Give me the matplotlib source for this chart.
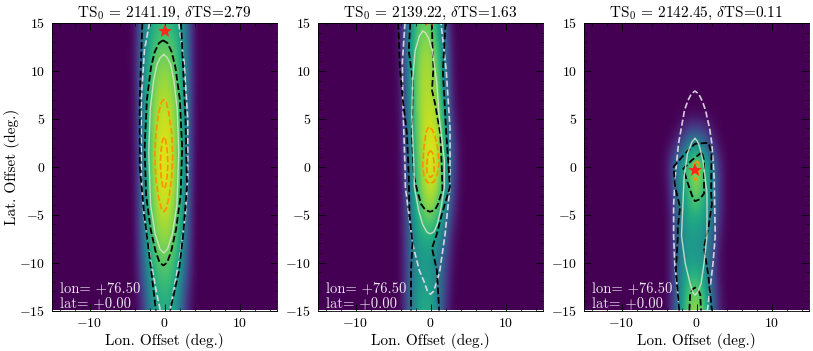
""" Three TS maps in longitude / latitude offset, with contours and best-fit star """

import numpy as np
import matplotlib.pyplot as plt

plt.rcParams['font.family'] = ['cmr10', 'DejaVu Serif']
plt.rcParams['mathtext.fontset'] = 'cm'
plt.rcParams['axes.formatter.use_mathtext'] = True
plt.rcParams['axes.unicode_minus'] = True

titles = [r'$\mathrm{TS}_0$ = 2141.19, $\delta$TS=2.79',
          r'$\mathrm{TS}_0$ = 2139.22, $\delta$TS=1.63',
          r'$\mathrm{TS}_0$ = 2142.45, $\delta$TS=0.11']
star_lon = [0.0, -0.2, -0.2]
star_lat = [14.2, 15.3, -0.3]

# heat map, values (0 = purple, 1 = yellow)
grid_lon = [-5, -4, -3, -2, -1, 0, 1, 2, 3, 4, 5]
grid_lat = [15, 12.5, 10, 7.5, 5, 2.5, 0, -2.5, -5, -7.5, -10, -12.5, -15]

map_1 = [[0, .02, .36, .56, .63, .66, .63, .56, .36, .02, 0],
         [0, .03, .38, .62, .73, .76, .73, .62, .38, .03, 0],
         [0, .03, .40, .68, .80, .83, .80, .68, .40, .03, 0],
         [0, .02, .40, .71, .85, .88, .85, .71, .40, .02, 0],
         [0, .02, .40, .73, .89, .93, .89, .73, .40, .02, 0],
         [0, .01, .40, .74, .91, .96, .91, .74, .40, .01, 0],
         [0, .01, .38, .74, .92, .97, .92, .74, .38, .01, 0],
         [0, .01, .36, .72, .90, .95, .90, .72, .36, .01, 0],
         [0, 0, .34, .69, .86, .91, .86, .69, .34, 0, 0],
         [0, 0, .30, .64, .80, .84, .80, .64, .30, 0, 0],
         [0, 0, .26, .58, .72, .76, .72, .58, .26, 0, 0],
         [0, 0, .18, .50, .64, .68, .64, .50, .18, 0, 0],
         [0, 0, .10, .42, .58, .62, .58, .42, .10, 0, 0]]

map_2 = [[0, .06, .40, .66, .76, .74, .58, .24, 0, 0, 0],
         [0, .06, .44, .72, .84, .84, .70, .34, .02, 0, 0],
         [0, .05, .44, .76, .87, .87, .76, .40, .03, 0, 0],
         [0, .04, .42, .76, .88, .89, .80, .46, .04, 0, 0],
         [0, .03, .38, .76, .89, .92, .86, .54, .08, 0, 0],
         [0, .02, .36, .72, .90, .96, .92, .64, .18, .01, 0],
         [0, .02, .34, .68, .88, .97, .90, .64, .22, .01, 0],
         [0, .01, .30, .64, .84, .93, .84, .58, .18, .01, 0],
         [0, .01, .28, .58, .75, .80, .70, .46, .12, 0, 0],
         [0, .01, .26, .52, .62, .62, .52, .30, .05, 0, 0],
         [0, .01, .24, .48, .52, .52, .42, .22, .02, 0, 0],
         [0, .01, .26, .50, .57, .56, .44, .18, .01, 0, 0],
         [0, .01, .28, .52, .62, .62, .44, .14, 0, 0, 0]]

map_3 = [[0, 0, 0, 0, 0, 0, 0, 0, 0, 0, 0],
         [0, 0, 0, 0, 0, 0, 0, 0, 0, 0, 0],
         [0, 0, 0, 0, 0, 0, 0, 0, 0, 0, 0],
         [0, 0, 0, 0, 0, 0, 0, 0, 0, 0, 0],
         [0, 0, 0, 0, 0, 0, 0, 0, 0, 0, 0],
         [0, 0, .03, .18, .42, .46, .34, .14, .01, 0, 0],
         [0, .04, .34, .57, .76, .90, .72, .48, .16, 0, 0],
         [0, .01, .24, .52, .70, .82, .68, .48, .16, 0, 0],
         [0, 0, .18, .48, .62, .64, .58, .42, .16, 0, 0],
         [0, 0, .18, .46, .54, .52, .50, .34, .08, 0, 0],
         [0, 0, .18, .46, .56, .54, .50, .28, .04, 0, 0],
         [0, 0, .20, .52, .70, .74, .64, .34, .06, 0, 0],
         [0, 0, .22, .56, .80, .86, .74, .42, .10, 0, 0]]

# contours of panel 1
p1_white_dash_lon = [-2.0, -2.67, -3.1, -3.1, -2.75, -1.9, -1.1, -0.55]
p1_white_dash_lat = [15, 12.2, 7, -1, -5, -9.5, -13, -15]
p1_white_dash2_lon = [0.7, 1.2, 2.0, 2.8, 3.1, 3.1, 2.6, 1.9]
p1_white_dash2_lat = [-15, -13, -9.5, -5, -1, 5, 11, 15]
p1_black_out_lon = [-2.96, -3.3, -3.3, -2.7, -1.9, -1.15]
p1_black_out_lat = [15, 7, 0, -5, -10, -15]
p1_black_out2_lon = [2.2, 2.8, 3.0, 2.5, 1.9, 0.75]
p1_black_out2_lat = [15, 5, -2, -7, -11, -15]
p1_black_in_lon = [-0.2, -0.75, -1.3, -1.8, -2.35, -2.65, -2.45, -1.85, -1.2, -0.65, -0.15,
                   0.35, 0.9, 1.55, 2.15, 2.35, 2.05, 1.45, 0.95, 0.4, -0.2]
p1_black_in_lat = [13.2, 12.9, 12, 10.4, 7, 2, -3, -6.5, -8.8, -10, -10.3,
                   -10, -8.8, -6.5, -3, 2, 7, 10.4, 12, 12.9, 13.2]
p1_white_lon = [-0.1, -0.55, -1.0, -1.45, -1.9, -2.1, -1.85, -1.25, -0.6, -0.1,
                0.4, 1.05, 1.65, 1.9, 1.7, 1.25, 0.8, 0.35, -0.1]
p1_white_lat = [11.7, 11.4, 10.7, 9, 6, 1.5, -4, -7, -8.6, -9,
                -8.6, -7, -4, 1.5, 6, 9, 10.7, 11.4, 11.7]
p1_orange_lon = [-0.1, -0.45, -0.8, -1.15, -1.3, -1.15, -0.8, -0.4, -0.1,
                 0.2, 0.6, 0.95, 1.1, 0.95, 0.6, 0.25, -0.1]
p1_orange_lat = [7.05, 6.7, 5.5, 3.5, 1.2, -1.2, -3.2, -4.4, -4.7,
                 -4.4, -3.2, -1.2, 1.2, 3.5, 5.5, 6.7, 7.05]
p1_orange2_lon = [-0.05, -0.25, -0.45, -0.55, -0.45, -0.25, -0.05, 0.15, 0.35, 0.45, 0.35, 0.15, -0.05]
p1_orange2_lat = [3.05, 2.8, 1.8, 0.4, -1, -2, -2.3, -2, -1, 0.4, 1.8, 2.8, 3.05]

# contours of panel 2
p2_white_dash_lon = [-3.4, -3.75, -3.7, -3.4, -3.35, -2.4, -1.5, -0.85, -0.4, 0, 0.4,
                     0.85, 1.25, 1.95, 2.6, 2.6, 2.1, 1.4]
p2_white_dash_lat = [15, 11, 7, 0, -2.1, -8, -10.8, -12, -13, -13.3, -13,
                     -12, -10.8, -7, -2.1, 4, 10, 15]
p2_black_out_lon = [-4.3, -4.1, -3.7, -3.15, -2.9, -2.8, -2.4, -2.6, -2.6]
p2_black_out_lat = [15, 10.4, 7, 3.5, -1, -5, -8, -10.8, -15]
p2_black_out2_lon = [2.0, 1.65, 2.1, 2.6, 1.5, 0.85, 0.2, 0.85, 1.15]
p2_black_out2_lat = [15, 10, 3.5, -2.1, -5, -7, -8.5, -10.8, -15]
p2_black_in_lon = [-2.7, -2.9, -2.4, -2.4, -2.5, -2.2, -1.8, -1.25, -0.7, -0.05, 0.6,
                   1.0, 1.6, 1.5, 1.3, 0.6, 0.2, 0.4, 0.25, 0.2]
p2_black_in_lat = [15, 12.1, 9.2, 7, 3.5, -1, -2.4, -3.9, -4.5, -4.7, -4.5,
                   -3.9, -2.4, 0, 3.5, 6.6, 8, 10.4, 12.8, 15]
p2_white_lon = [-1.05, -1.5, -2.05, -2.4, -2.5, -2.2, -2.15, -1.6, -1.05, -0.5, -0.05, 0.45,
                0.9, 1.35, 1.85, 1.85, 1.15, 0.85, 0.25, -0.3, -0.7, -1.05]
p2_white_lat = [14.15, 13.6, 12.1, 9, 5.2, 0, -2.1, -4.5, -6, -6.8, -7, -6.8,
                -6, -4.5, -2.1, 0.7, 5.2, 8.7, 12.1, 13.5, 14, 14.15]
p2_orange_lon = [-0.25, -0.6, -0.9, -1.05, -0.85, -0.45, 0, 0.5, 0.95, 1.15, 0.95, 0.6, 0.2, -0.25]
p2_orange_lat = [4.16, 3.6, 1.9, 0, -1, -1.6, -1.8, -1.5, -0.7, 0.3, 2.0, 3.2, 3.9, 4.16]
p2_orange2_lon = [0, -0.3, -0.45, -0.5, -0.3, 0, 0.3, 0.5, 0.45, 0.3, 0]
p2_orange2_lat = [1.7, 1.4, 0.6, -0.4, -0.9, -1.1, -0.9, -0.4, 0.6, 1.4, 1.7]

# contours of panel 3
p3_white_dash_lon = [-2.3, -2.9, -3.05, -3.05, -2.85, -2.4, -1.6, -1.15, -0.7, -0.2,
                     0.3, 0.8, 1.2, 1.75, 2.05, 2.35, 2.5, 2.2, 1.45]
p3_white_dash_lat = [-15, -10.1, -7.2, -4, -1.1, 2.4, 5.9, 6.9, 7.6, 7.9,
                     7.6, 6.8, 5.9, 4, 2.4, -1.1, -7.2, -10.1, -15]
p3_black_out_lon = [-2.3, -2.75, -2.5, -2.5, -2.2, -2.85, -3.05, -1.5, -0.2, 1.6, 2.0,
                    1.95, 2.05, 1.6, 1.0, 1.6, 2.05]
p3_black_out_lat = [-15, -10.8, -7.4, -6.5, -4.2, -2.1, 0, 1.4, 2.4, 2.5, 1.4,
                    -2.8, -3.9, -6.3, -8.4, -11.5, -15]
p3_black_in_lon = [0.7, -0.6, -1.75, -1.3, -0.6, -0.2, 0.4, 1.0, 1.0, 0.7]
p3_black_in_lat = [1.5, 0.7, -0.2, -1.4, -3.0, -3.6, -3.4, -2.8, 0.7, 1.5]
p3_black_low_lon = [-0.95, -0.85, -0.55, -0.2, 0.15, 0.5, 0.6]
p3_black_low_lat = [-15, -13.3, -12.8, -12.6, -12.8, -13.3, -15]
p3_white_lon = [-0.2, -0.6, -1.2, -1.65, -2.0, -1.5, -0.85, -0.5, -0.2, 0.15, 0.6, 1.0,
                1.4, 1.4, 0.85, 0.4, 0.1, -0.2]
p3_white_lat = [2.95, 2.6, 1.4, -1.1, -7.2, -10.1, -12.2, -13.1, -13.4, -13.1, -12.2, -10.1,
                -7.2, -2.8, 0.7, 2.1, 2.7, 2.95]
p3_orange_lon = [0.1, -0.25, -0.5, -0.4, -0.2, 0.15, 0.4, 0.35, 0.1]
p3_orange_lat = [0.6, 0.3, -0.4, -1.0, -1.4, -1.1, -0.4, 0.3, 0.6]

white_dash = dict(color='#e8e0ee', ls='--', lw=1.2, alpha=0.9)
black_dash = dict(color='black', ls='--', lw=1.3)
white_line = dict(color='#d8e8d0', ls='-', lw=1.0, alpha=0.85)
orange_dash = dict(color='#ff9000', ls='--', lw=1.2)

contours = [
    [(p1_white_dash_lon, p1_white_dash_lat, white_dash),
     (p1_white_dash2_lon, p1_white_dash2_lat, white_dash),
     (p1_black_out_lon, p1_black_out_lat, black_dash),
     (p1_black_out2_lon, p1_black_out2_lat, black_dash),
     (p1_black_in_lon, p1_black_in_lat, black_dash),
     (p1_white_lon, p1_white_lat, white_line),
     (p1_orange_lon, p1_orange_lat, orange_dash),
     (p1_orange2_lon, p1_orange2_lat, orange_dash)],
    [(p2_white_dash_lon, p2_white_dash_lat, white_dash),
     (p2_black_out_lon, p2_black_out_lat, black_dash),
     (p2_black_out2_lon, p2_black_out2_lat, black_dash),
     (p2_black_in_lon, p2_black_in_lat, black_dash),
     (p2_white_lon, p2_white_lat, white_line),
     (p2_orange_lon, p2_orange_lat, orange_dash),
     (p2_orange2_lon, p2_orange2_lat, orange_dash)],
    [(p3_white_dash_lon, p3_white_dash_lat, white_dash),
     (p3_black_out_lon, p3_black_out_lat, black_dash),
     (p3_black_in_lon, p3_black_in_lat, black_dash),
     (p3_black_low_lon, p3_black_low_lat, black_dash),
     (p3_white_lon, p3_white_lat, white_line),
     (p3_orange_lon, p3_orange_lat, orange_dash)],
]


def pad_map(values):
    """Fill the rest of the longitude range (outside -5..5) with zeros"""
    return np.pad(np.array(values, dtype=float), ((0, 0), (10, 10)))


if __name__ == '__main__':
    fig, axes = plt.subplots(1, 3, figsize=(8.13, 3.51), dpi=100)
    fig.subplots_adjust(left=52/813, right=809/813, top=1-23/351, bottom=1-310.5/351,
                        wspace=41/225)

    for ii, (ax, values) in enumerate(zip(axes, [map_1, map_2, map_3])):
        ax.imshow(pad_map(values), cmap='viridis', vmin=0, vmax=1, aspect='auto',
                  interpolation='bicubic', extent=(-15.5, 15.5, -16.25, 16.25))

        for lon, lat, style in contours[ii]:
            ax.plot(lon, lat, **style)

        ax.plot(star_lon[ii], star_lat[ii], marker='*', color='#ff2a1a', ms=10, mew=0, ls='none')

        ax.text(-14, -13.1, 'lon= +76.50', color='#ece6f0', fontsize=10.5)
        ax.text(-14, -14.7, 'lat= +0.00', color='#ece6f0', fontsize=10.5)

        ax.set_xlim(-15, 15)
        ax.set_ylim(-15, 15)
        ax.set_xticks([-10, 0, 10])
        ax.set_xticks(np.arange(-14, 15, 2), minor=True)
        ax.set_yticks(np.arange(-15, 16, 5))
        ax.set_yticks(np.arange(-15, 16, 1), minor=True)
        ax.tick_params(which='major', direction='in', top=True, right=True, length=5,
                       width=0.6, labelsize=10, pad=5)
        ax.tick_params(which='minor', direction='in', top=True, right=True, length=2.5,
                       width=0.5)
        for spine in ax.spines.values():
            spine.set_linewidth(0.6)

        ax.set_title(titles[ii], fontsize=11, pad=4)
        ax.set_xlabel('Lon. Offset (deg.)', fontsize=11, labelpad=2)

    axes[0].set_ylabel('Lat. Offset (deg.)', fontsize=11, labelpad=-1)

    out_file = 'out.png'
    plt.savefig(out_file, dpi=100)
    print(f'Resulting image saved to {out_file}')
